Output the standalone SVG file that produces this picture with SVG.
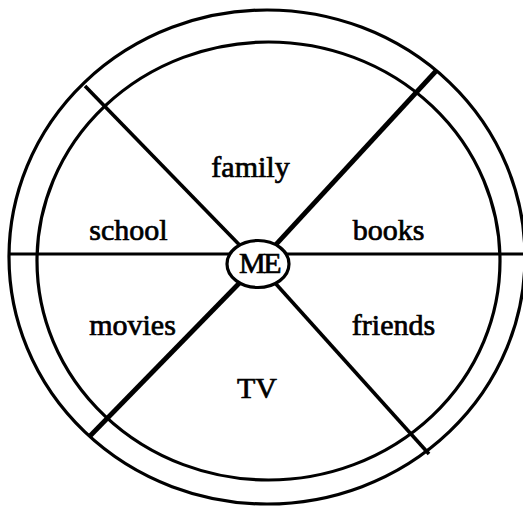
<svg xmlns="http://www.w3.org/2000/svg" width="523" height="510" viewBox="0 0 523 510">
<style>
.ring{fill:none;stroke:#000;stroke-width:3.2}
.spoke{stroke:#000;stroke-width:3.6;stroke-linecap:butt}
.thick{stroke-width:4.8}
.lbl{font-family:"Liberation Serif","Times New Roman",serif;font-size:30px;fill:#000;text-anchor:middle;stroke:#000;stroke-width:0.7}
</style>
<rect width="523" height="510" fill="#fff"/>
<g id="rings">
<ellipse class="ring" cx="267" cy="257" rx="258" ry="247"/>
<ellipse class="ring" cx="268.5" cy="261" rx="231.5" ry="219"/>
</g>
<g id="connectors">
<line class="spoke" x1="9" y1="254" x2="523" y2="254" style="stroke-width:3"/>
<line class="spoke" x1="85" y1="86" x2="258" y2="264"/>
<line class="spoke thick" x1="436" y1="71" x2="258" y2="264"/>
<line class="spoke thick" x1="90" y1="436" x2="258" y2="264"/>
<line class="spoke" x1="429" y1="454" x2="258" y2="264"/>
</g>
<g id="me">
<ellipse cx="258" cy="264" rx="31" ry="23.5" fill="#fff" stroke="#000" stroke-width="3.2"/>
<text class="lbl" x="259" y="273" style="font-size:30px;letter-spacing:-2.5px">ME</text>
</g>
<g id="family"><text class="lbl" x="250.5" y="177">family</text></g>
<g id="school"><text class="lbl" x="128.5" y="240">school</text></g>
<g id="books"><text class="lbl" x="388.5" y="240">books</text></g>
<g id="movies"><text class="lbl" x="132.5" y="335">movies</text></g>
<g id="friends"><text class="lbl" x="393.5" y="335">friends</text></g>
<g id="tv"><text class="lbl" x="257" y="398">TV</text></g>
</svg>
